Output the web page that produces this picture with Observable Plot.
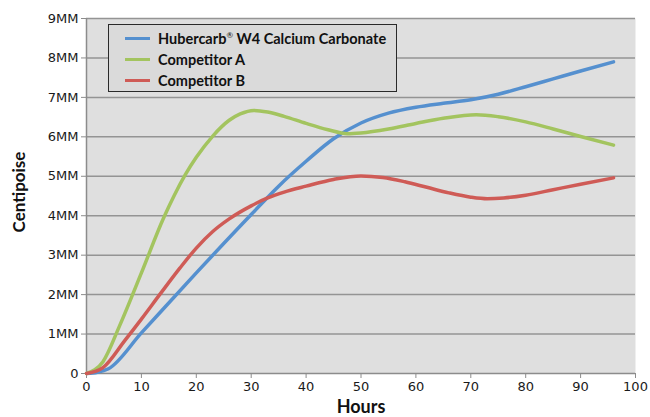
<!DOCTYPE html>
<html>
<head>
<meta charset="utf-8">
<script src="https://cdn.jsdelivr.net/npm/d3@7"></script>
<script src="https://cdn.jsdelivr.net/npm/@observablehq/plot@0.6"></script>
<style>
  html, body { margin: 0; padding: 0; background: #fff; }
  #wrap { position: relative; width: 650px; height: 417px; }
  #legend {
    position: absolute; left: 108px; top: 24px; width: 287px; height: 66px;
    background: #dadada; border: 1.5px solid #2a2a2a;
    font-family: Lato, "Open Sans", sans-serif; font-weight: bold; font-size: 14.5px; color: #111;
  }
  .item { position: absolute; left: 16px; height: 20px; display: flex; align-items: center; }
  .sw { width: 25px; height: 3px; margin-right: 8px; }
</style>
</head>
<body>
<div id="wrap"><div id="legend"></div></div>
<script>
const seriesNames = ["Hubercarb® W4 Calcium Carbonate", "Competitor A", "Competitor B"];
const seriesColors = ["#5590cf", "#a3c45f", "#cf5b56"];

const blueHours = [0, 2, 4, 10, 20, 30, 35, 40, 45, 50, 55, 60, 65, 70, 75, 80, 85, 90, 96];
const blueValues = [0, 0.03, 0.12, 1.03, 2.55, 4.03, 4.75, 5.38, 5.95, 6.35, 6.6, 6.75, 6.85, 6.94, 7.08, 7.27, 7.47, 7.67, 7.9];

const greenHours = [0, 3, 6, 10, 14, 16, 18, 20, 23, 26, 28, 30.5, 33, 36, 40, 44, 47.5, 50, 55, 60, 65, 71, 75, 80, 85, 90, 96];
const greenValues = [0, 0.3, 1.2, 2.55, 3.93, 4.52, 5.04, 5.48, 6.02, 6.42, 6.58, 6.67, 6.63, 6.52, 6.34, 6.18, 6.08, 6.1, 6.2, 6.34, 6.47, 6.56, 6.51, 6.38, 6.2, 6.01, 5.79];

const redHours = [0, 3, 7, 10, 13.5, 17, 20, 23, 26, 30, 33, 36, 40, 45, 50, 54, 58, 62, 66, 70, 73, 76, 80, 85, 90, 96];
const redValues = [0, 0.15, 0.84, 1.38, 2.03, 2.67, 3.18, 3.6, 3.92, 4.25, 4.45, 4.6, 4.75, 4.92, 5.01, 4.97, 4.86, 4.72, 4.58, 4.47, 4.43, 4.45, 4.52, 4.66, 4.8, 4.96];

const xTicks = [0, 10, 20, 30, 40, 50, 60, 70, 80, 90, 100];
const yTicks = [0, 1, 2, 3, 4, 5, 6, 7, 8, 9];
const yTickLabels = ["0", "1MM", "2MM", "3MM", "4MM", "5MM", "6MM", "7MM", "8MM", "9MM"];

const rows = [];
[[blueHours, blueValues], [greenHours, greenValues], [redHours, redValues]].forEach(([hs, vs], i) => {
  hs.forEach((h, j) => rows.push({series: seriesNames[i], hours: h, value: vs[j]}));
});

const chart = Plot.plot({
  width: 650,
  height: 417,
  marginLeft: 86,
  marginRight: 15,
  marginTop: 18,
  marginBottom: 44,
  style: {fontFamily: "DejaVu Sans, Verdana, sans-serif", fontSize: "13px", background: "#fff", color: "#1a1a1a"},
  x: {domain: [0, 100]},
  y: {domain: [0, 9]},
  color: {domain: seriesNames, range: seriesColors},
  marks: [
    Plot.frame({fill: "#dfdfdf", stroke: null}),
    Plot.ruleY(yTicks.slice(1), {stroke: "#949494", strokeWidth: 1.5}),
    Plot.ruleY([0], {stroke: "#8c8c8c", strokeWidth: 1.5}),
    Plot.ruleX([0], {stroke: "#8c8c8c", strokeWidth: 1.5}),
    Plot.axisY({ticks: yTicks, tickFormat: (d) => yTickLabels[yTicks.indexOf(d)], tickSize: 5, tickPadding: 3, stroke: "#8c8c8c", fill: "#1a1a1a", label: null}),
    Plot.axisX({ticks: xTicks, tickSize: 5, tickPadding: 3, stroke: "#8c8c8c", fill: "#1a1a1a", label: null}),
    Plot.line(rows, {x: "hours", y: "value", z: "series", stroke: "series", strokeWidth: 3.5, curve: "monotone-x"}),
    Plot.text(["Hours"], {frameAnchor: "bottom", lineAnchor: "middle", dy: 34, fontFamily: "Lato, sans-serif", fontWeight: "bold", fontSize: 18, fill: "#111"}),
    Plot.text(["Centipoise"], {frameAnchor: "left", textAnchor: "middle", lineAnchor: "middle", rotate: -90, dx: -67, dy: -4, fontFamily: "Lato, sans-serif", fontWeight: "bold", fontSize: 17, fill: "#111"})
  ]
});
const wrap = document.getElementById("wrap");
wrap.insertBefore(chart, wrap.firstChild);

const legend = document.getElementById("legend");
seriesNames.forEach((name, i) => {
  const it = document.createElement("div");
  it.className = "item";
  it.style.top = (3 + i * 21) + "px";
  const sw = document.createElement("div");
  sw.className = "sw";
  sw.style.background = seriesColors[i];
  it.appendChild(sw);
  const t = document.createElement("span");
  if (i === 0) {
    t.innerHTML = "Hubercarb<sup style='font-size:8px;vertical-align:6px;font-weight:normal'>®</sup> W4 Calcium Carbonate";
  } else {
    t.textContent = name;
  }
  it.appendChild(t);
  legend.appendChild(it);
});
</script>
</body>
</html>
